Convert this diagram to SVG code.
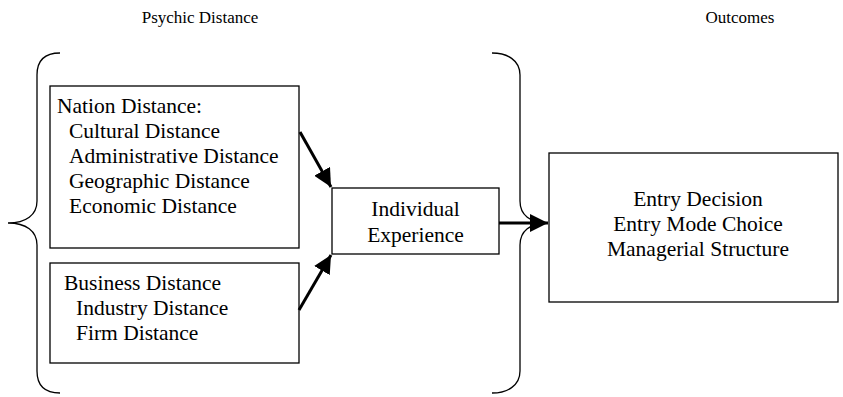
<svg xmlns="http://www.w3.org/2000/svg" width="843" height="397" viewBox="0 0 843 397">
<style>
text{font-family:"Liberation Serif","Times New Roman",serif;fill:#000}
.t{font-size:17px}
.b{font-size:21.5px}
.box{fill:#fff;stroke:#000;stroke-width:1.3}
.br{fill:none;stroke:#000;stroke-width:1.3}
.ar{stroke:#000;stroke-width:3;fill:none;marker-end:url(#ah)}
</style>
<defs>
<marker id="ah" markerWidth="6" markerHeight="6" refX="6" refY="3" orient="auto" markerUnits="strokeWidth">
<path d="M0,0 L6,3 L0,6 Z" fill="#000"/>
</marker>
</defs>
<rect width="843" height="397" fill="#fff"/>
<g id="titles">
<text class="t" x="200" y="23" text-anchor="middle">Psychic Distance</text>
<text class="t" x="740" y="23" text-anchor="middle">Outcomes</text>
</g>
<g id="braces">
<path class="br" d="M60,53 C45,53 37,60 37,75 L37,201 C37,215 26,223 8,223 C26,223 37,231 37,245 L37,371 C37,386 45,393 60,393"/>
<path class="br" d="M492,53 C507,53 520,60 520,75 L520,201 C520,215 530,223 548,223 C530,223 520,231 520,245 L520,371 C520,386 507,393 492,393"/>
</g>
<g id="nation">
<rect class="box" x="50" y="86" width="249" height="162"/>
<text class="b" x="57" y="113">Nation Distance:</text>
<text class="b" x="69" y="138">Cultural Distance</text>
<text class="b" x="69" y="163">Administrative Distance</text>
<text class="b" x="69" y="188">Geographic Distance</text>
<text class="b" x="69" y="213">Economic Distance</text>
</g>
<g id="business">
<rect class="box" x="50" y="263" width="249" height="100"/>
<text class="b" x="64" y="290">Business Distance</text>
<text class="b" x="76" y="315">Industry Distance</text>
<text class="b" x="76" y="340">Firm Distance</text>
</g>
<g id="individual">
<rect class="box" x="332" y="188" width="167" height="66"/>
<text class="b" x="415.5" y="216" text-anchor="middle">Individual</text>
<text class="b" x="415.5" y="242" text-anchor="middle">Experience</text>
</g>
<g id="outcomes">
<rect class="box" x="549" y="153" width="289" height="149"/>
<text class="b" x="698" y="206" text-anchor="middle">Entry Decision</text>
<text class="b" x="698" y="231" text-anchor="middle">Entry Mode Choice</text>
<text class="b" x="698" y="256" text-anchor="middle">Managerial Structure</text>
</g>
<g id="connectors">
<line class="ar" x1="300" y1="132" x2="331" y2="187"/>
<line class="ar" x1="299" y1="310" x2="331" y2="255"/>
<line class="ar" x1="499" y1="223" x2="548" y2="223"/>
</g>
</svg>
